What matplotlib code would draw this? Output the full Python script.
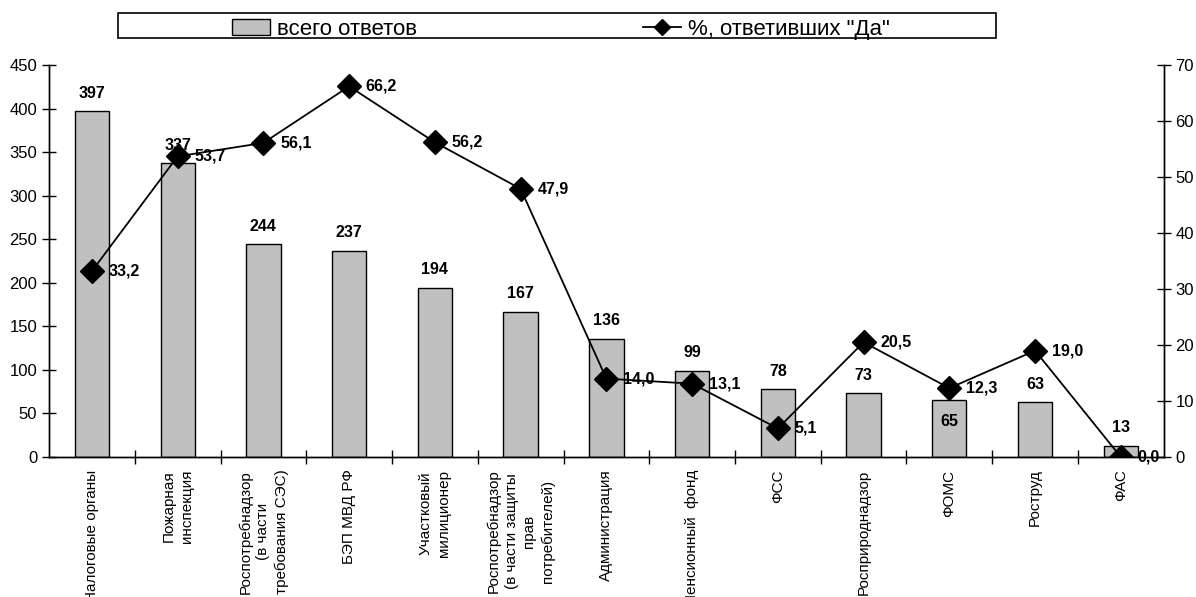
import numpy as np
import matplotlib.pyplot as plt
from matplotlib.lines import Line2D
from matplotlib.patches import Patch, Rectangle

plt.rcParams['font.family'] = ['Liberation Sans', 'DejaVu Sans']

# Data
categories = ['Налоговые органы', 'Пожарная\nинспекция',
              'Роспотребнадзор\n(в части\nтребования СЭС)', 'БЭП МВД РФ',
              'Участковый\nмилиционер',
              'Роспотребнадзор\n(в части защиты\nправ\nпотребителей)',
              'Администрация', 'Пенсионный  фонд', 'ФСС', 'Росприроднадзор',
              'ФОМС', 'Роструд', 'ФАС']
total = [397, 337, 244, 237, 194, 167, 136, 99, 78, 73, 65, 63, 13]
pct_yes = [33.2, 53.7, 56.1, 66.2, 56.2, 47.9, 14.0, 13.1, 5.1, 20.5, 12.3, 19.0, 0.0]

x = np.arange(len(categories))

fig = plt.figure(figsize=(11.96, 5.97), dpi=100)
ax = fig.add_axes([0.041, 0.2345, 0.932, 0.6565])
ax2 = ax.twinx()

ax.bar(x, total, width=0.4, color='#c0c0c0', edgecolor='black',
       linewidth=1.0, zorder=2)
ax2.plot(x, pct_yes, color='black', lw=1.3, marker='D', ms=12, zorder=3)

ax.set_xlim(-0.5, len(categories) - 0.5)
ax.set_ylim(0, 450)
ax.set_yticks(np.arange(0, 451, 50))
ax2.set_ylim(0, 70)
ax2.set_yticks(np.arange(0, 71, 10))

# bar value labels
for i, v in enumerate(total):
    dy = -15 if categories[i] == 'ФОМС' else 13
    ax.annotate(str(v), (x[i], v), xytext=(0, dy), textcoords='offset points',
                ha='center', va='center', fontsize=11.5, fontweight='bold')

# line value labels
for i, v in enumerate(pct_yes):
    ax2.annotate(('%.1f' % v).replace('.', ','), (x[i], v), xytext=(12, 0),
                 textcoords='offset points', ha='left', va='center',
                 fontsize=11.5, fontweight='bold')

# axes styling
ax.set_xticks(x)
ax.set_xticklabels(categories, rotation=90, ha='center', va='top',
                   multialignment='center', fontsize=11, linespacing=1.35)
ax.tick_params(axis='x', length=0, pad=9)
ax.set_xticks(np.arange(0.5, len(categories) - 0.5, 1), minor=True)
ax.tick_params(axis='x', which='minor', direction='inout', length=10, width=1)
ax.tick_params(axis='y', direction='inout', length=10, width=1, labelsize=12)
ax2.tick_params(axis='y', direction='inout', length=10, width=1, labelsize=12)

for a in (ax, ax2):
    a.spines['top'].set_visible(False)
    for s in ('left', 'right', 'bottom'):
        a.spines[s].set_linewidth(1.0)

# legend (frame drawn separately)
h_bar = Patch(facecolor='#c0c0c0', edgecolor='black', linewidth=1.0)
h_line = Line2D([], [], color='black', lw=1.3, marker='D', ms=8)
fig.legend([h_bar, h_line], ['всего ответов', '%, ответивших "Да"'],
           loc='center', bbox_to_anchor=(0.469, 0.951), ncol=2, fontsize=16,
           frameon=False, columnspacing=10.2, handlelength=1.7,
           handletextpad=0.3, borderpad=0, borderaxespad=0)
fig.patches.append(Rectangle((118 / 1196, 1 - 38 / 597), 878 / 1196, 25 / 597,
                             transform=fig.transFigure, fill=False,
                             edgecolor='black', linewidth=1.2))

fig.savefig('out.png', dpi=100)
